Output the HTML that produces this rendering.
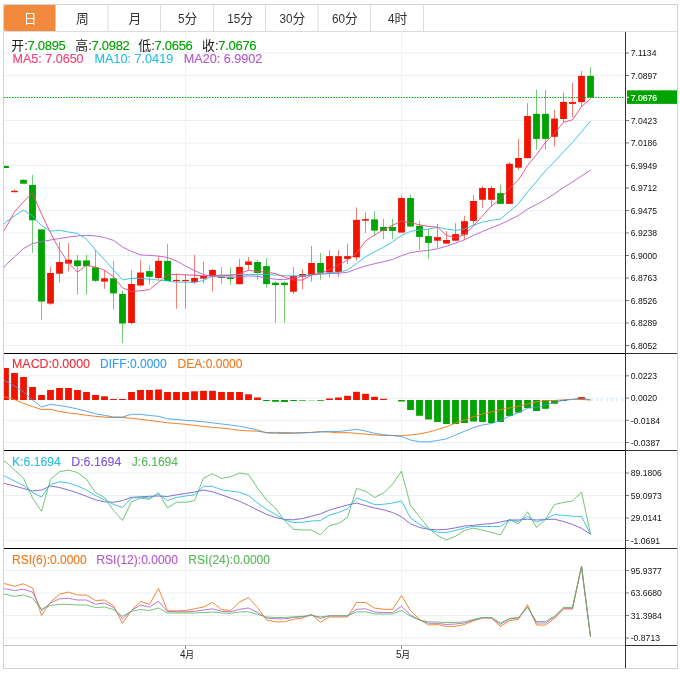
<!DOCTYPE html><html><head><meta charset="utf-8"><title>chart</title><style>html,body{margin:0;padding:0;background:#fff}svg{display:block;will-change:transform;font-family:"Liberation Sans",sans-serif}</style></head><body>
<svg width="680" height="673" viewBox="0 0 680 673">
<rect width="680" height="673" fill="#fff"/>
<defs><clipPath id="cp"><rect x="4" y="32" width="621" height="614"/></clipPath></defs>
<g stroke="#e9f1f7" stroke-width="1" fill="none">
<line x1="4" x2="625" y1="53.00" y2="53.00"/>
<line x1="4" x2="625" y1="75.50" y2="75.50"/>
<line x1="4" x2="625" y1="98.00" y2="98.00"/>
<line x1="4" x2="625" y1="120.50" y2="120.50"/>
<line x1="4" x2="625" y1="143.00" y2="143.00"/>
<line x1="4" x2="625" y1="165.50" y2="165.50"/>
<line x1="4" x2="625" y1="188.00" y2="188.00"/>
<line x1="4" x2="625" y1="210.50" y2="210.50"/>
<line x1="4" x2="625" y1="233.00" y2="233.00"/>
<line x1="4" x2="625" y1="255.50" y2="255.50"/>
<line x1="4" x2="625" y1="278.00" y2="278.00"/>
<line x1="4" x2="625" y1="300.50" y2="300.50"/>
<line x1="4" x2="625" y1="323.00" y2="323.00"/>
<line x1="4" x2="625" y1="345.50" y2="345.50"/>
<line x1="4" x2="625" y1="375.80" y2="375.80"/>
<line x1="4" x2="625" y1="398.20" y2="398.20"/>
<line x1="4" x2="625" y1="420.30" y2="420.30"/>
<line x1="4" x2="625" y1="442.50" y2="442.50"/>
<line x1="4" x2="625" y1="473.00" y2="473.00"/>
<line x1="4" x2="625" y1="495.50" y2="495.50"/>
<line x1="4" x2="625" y1="518.00" y2="518.00"/>
<line x1="4" x2="625" y1="540.50" y2="540.50"/>
<line x1="4" x2="625" y1="570.50" y2="570.50"/>
<line x1="4" x2="625" y1="593.00" y2="593.00"/>
<line x1="4" x2="625" y1="615.50" y2="615.50"/>
<line x1="4" x2="625" y1="638.00" y2="638.00"/>
<line x1="185.5" x2="185.5" y1="32" y2="645" stroke="#edf3f8"/>
<line x1="401.5" x2="401.5" y1="32" y2="645" stroke="#edf3f8"/>
</g>
<rect x="3.5" y="4.5" width="674" height="664" fill="none" stroke="#d2d2d2"/>
<line x1="4" x2="677" y1="31.5" y2="31.5" stroke="#dcdcdc"/>
<path d="M6,5H55.5V31H6a2,2 0 0 1 -2,-2V7a2,2 0 0 1 2,-2z" fill="#f28a3e"/>
<line x1="108.0" x2="108.0" y1="5" y2="31" stroke="#dcdcdc"/>
<line x1="160.5" x2="160.5" y1="5" y2="31" stroke="#dcdcdc"/>
<line x1="213.5" x2="213.5" y1="5" y2="31" stroke="#dcdcdc"/>
<line x1="265.5" x2="265.5" y1="5" y2="31" stroke="#dcdcdc"/>
<line x1="318.0" x2="318.0" y1="5" y2="31" stroke="#dcdcdc"/>
<line x1="370.5" x2="370.5" y1="5" y2="31" stroke="#dcdcdc"/>
<line x1="423.5" x2="423.5" y1="5" y2="31" stroke="#dcdcdc"/>
<text x="23.70" y="22.80" font-size="12.8" fill="#fff" font-family="&quot;Liberation Sans&quot;,&quot;Noto Sans CJK SC&quot;,sans-serif">日</text>
<text x="75.95" y="22.80" font-size="12.8" fill="#333" font-family="&quot;Liberation Sans&quot;,&quot;Noto Sans CJK SC&quot;,sans-serif">周</text>
<text x="128.45" y="22.80" font-size="12.8" fill="#333" font-family="&quot;Liberation Sans&quot;,&quot;Noto Sans CJK SC&quot;,sans-serif">月</text>
<text transform="translate(177.94,23.20) scale(0.9,1)" font-size="13" fill="#333">5</text><text x="184.45" y="22.80" font-size="12.8" fill="#333" font-family="&quot;Liberation Sans&quot;,&quot;Noto Sans CJK SC&quot;,sans-serif">分</text>
<text transform="translate(227.19,23.20) scale(0.9,1)" font-size="13" fill="#333">15</text><text x="240.20" y="22.80" font-size="12.8" fill="#333" font-family="&quot;Liberation Sans&quot;,&quot;Noto Sans CJK SC&quot;,sans-serif">分</text>
<text transform="translate(279.44,23.20) scale(0.9,1)" font-size="13" fill="#333">30</text><text x="292.45" y="22.80" font-size="12.8" fill="#333" font-family="&quot;Liberation Sans&quot;,&quot;Noto Sans CJK SC&quot;,sans-serif">分</text>
<text transform="translate(331.94,23.20) scale(0.9,1)" font-size="13" fill="#333">60</text><text x="344.95" y="22.80" font-size="12.8" fill="#333" font-family="&quot;Liberation Sans&quot;,&quot;Noto Sans CJK SC&quot;,sans-serif">分</text>
<text transform="translate(387.94,23.20) scale(0.9,1)" font-size="13" fill="#333">4</text><text x="394.45" y="22.80" font-size="12.8" fill="#333" font-family="&quot;Liberation Sans&quot;,&quot;Noto Sans CJK SC&quot;,sans-serif">时</text>
<g clip-path="url(#cp)">
<line x1="5.5" x2="5.5" y1="165.3" y2="168.0" stroke="#00a400" stroke-width="1" stroke-opacity="0.55"/>
<rect x="2.10" y="166.0" width="6.8" height="2.0" fill="#00a400"/>
<line x1="14.5" x2="14.5" y1="189.6" y2="192.2" stroke="#f01400" stroke-width="1" stroke-opacity="0.55"/>
<rect x="11.10" y="190.8" width="6.8" height="1.4" fill="#f01400"/>
<line x1="23.5" x2="23.5" y1="179.2" y2="183.7" stroke="#00a400" stroke-width="1" stroke-opacity="0.55"/>
<rect x="20.10" y="179.8" width="6.8" height="3.9" fill="#00a400"/>
<line x1="32.5" x2="32.5" y1="174.8" y2="252.8" stroke="#00a400" stroke-width="1" stroke-opacity="0.55"/>
<rect x="29.10" y="185.0" width="6.8" height="35.3" fill="#00a400"/>
<line x1="41.5" x2="41.5" y1="229.4" y2="320.0" stroke="#00a400" stroke-width="1" stroke-opacity="0.55"/>
<rect x="38.10" y="229.4" width="6.8" height="72.2" fill="#00a400"/>
<line x1="50.5" x2="50.5" y1="266.5" y2="305.0" stroke="#f01400" stroke-width="1" stroke-opacity="0.55"/>
<rect x="47.10" y="273.0" width="6.8" height="30.6" fill="#f01400"/>
<line x1="59.5" x2="59.5" y1="242.0" y2="282.8" stroke="#f01400" stroke-width="1" stroke-opacity="0.55"/>
<rect x="56.10" y="262.0" width="6.8" height="11.7" fill="#f01400"/>
<line x1="68.5" x2="68.5" y1="243.0" y2="271.7" stroke="#f01400" stroke-width="1" stroke-opacity="0.55"/>
<rect x="65.10" y="259.8" width="6.8" height="3.8" fill="#f01400"/>
<line x1="77.5" x2="77.5" y1="254.8" y2="294.7" stroke="#00a400" stroke-width="1" stroke-opacity="0.55"/>
<rect x="74.10" y="260.4" width="6.8" height="5.8" fill="#00a400"/>
<line x1="86.5" x2="86.5" y1="254.8" y2="294.7" stroke="#00a400" stroke-width="1" stroke-opacity="0.55"/>
<rect x="83.10" y="260.4" width="6.8" height="5.8" fill="#00a400"/>
<line x1="95.5" x2="95.5" y1="249.7" y2="282.0" stroke="#00a400" stroke-width="1" stroke-opacity="0.55"/>
<rect x="92.10" y="267.4" width="6.8" height="13.4" fill="#00a400"/>
<line x1="104.5" x2="104.5" y1="270.0" y2="288.9" stroke="#f01400" stroke-width="1" stroke-opacity="0.55"/>
<rect x="101.10" y="278.3" width="6.8" height="3.3" fill="#f01400"/>
<line x1="113.5" x2="113.5" y1="261.0" y2="309.6" stroke="#00a400" stroke-width="1" stroke-opacity="0.55"/>
<rect x="110.10" y="278.3" width="6.8" height="15.1" fill="#00a400"/>
<line x1="122.5" x2="122.5" y1="290.7" y2="343.0" stroke="#00a400" stroke-width="1" stroke-opacity="0.55"/>
<rect x="119.10" y="294.0" width="6.8" height="29.5" fill="#00a400"/>
<line x1="131.5" x2="131.5" y1="270.3" y2="324.5" stroke="#f01400" stroke-width="1" stroke-opacity="0.55"/>
<rect x="128.10" y="284.0" width="6.8" height="39.0" fill="#f01400"/>
<line x1="140.5" x2="140.5" y1="260.0" y2="286.5" stroke="#f01400" stroke-width="1" stroke-opacity="0.55"/>
<rect x="137.10" y="272.5" width="6.8" height="13.0" fill="#f01400"/>
<line x1="149.5" x2="149.5" y1="265.2" y2="284.0" stroke="#00a400" stroke-width="1" stroke-opacity="0.55"/>
<rect x="146.10" y="271.1" width="6.8" height="5.7" fill="#00a400"/>
<line x1="158.5" x2="158.5" y1="256.4" y2="279.5" stroke="#f01400" stroke-width="1" stroke-opacity="0.55"/>
<rect x="155.10" y="260.9" width="6.8" height="17.1" fill="#f01400"/>
<line x1="167.5" x2="167.5" y1="244.1" y2="281.0" stroke="#00a400" stroke-width="1" stroke-opacity="0.55"/>
<rect x="164.10" y="260.9" width="6.8" height="20.1" fill="#00a400"/>
<line x1="176.5" x2="176.5" y1="273.7" y2="308.7" stroke="#f01400" stroke-width="1" stroke-opacity="0.55"/>
<rect x="173.10" y="279.9" width="6.8" height="1.3" fill="#f01400"/>
<line x1="185.5" x2="185.5" y1="273.7" y2="308.7" stroke="#f01400" stroke-width="1" stroke-opacity="0.55"/>
<rect x="182.10" y="279.9" width="6.8" height="1.3" fill="#f01400"/>
<line x1="194.5" x2="194.5" y1="254.9" y2="284.0" stroke="#f01400" stroke-width="1" stroke-opacity="0.55"/>
<rect x="191.10" y="278.0" width="6.8" height="4.3" fill="#f01400"/>
<line x1="203.5" x2="203.5" y1="261.8" y2="283.1" stroke="#f01400" stroke-width="1" stroke-opacity="0.55"/>
<rect x="200.10" y="275.9" width="6.8" height="2.7" fill="#f01400"/>
<line x1="212.5" x2="212.5" y1="269.0" y2="291.5" stroke="#f01400" stroke-width="1" stroke-opacity="0.55"/>
<rect x="209.10" y="270.0" width="6.8" height="6.0" fill="#f01400"/>
<line x1="221.5" x2="221.5" y1="267.0" y2="284.0" stroke="#00a400" stroke-width="1" stroke-opacity="0.55"/>
<rect x="218.10" y="276.8" width="6.8" height="1.2" fill="#00a400"/>
<line x1="230.5" x2="230.5" y1="267.6" y2="285.0" stroke="#00a400" stroke-width="1" stroke-opacity="0.55"/>
<rect x="227.10" y="277.5" width="6.8" height="1.5" fill="#00a400"/>
<line x1="239.5" x2="239.5" y1="258.9" y2="284.5" stroke="#f01400" stroke-width="1" stroke-opacity="0.55"/>
<rect x="236.10" y="266.9" width="6.8" height="17.3" fill="#f01400"/>
<line x1="248.5" x2="248.5" y1="257.0" y2="270.2" stroke="#f01400" stroke-width="1" stroke-opacity="0.55"/>
<rect x="245.10" y="261.5" width="6.8" height="3.4" fill="#f01400"/>
<line x1="257.5" x2="257.5" y1="260.0" y2="279.8" stroke="#00a400" stroke-width="1" stroke-opacity="0.55"/>
<rect x="254.10" y="262.0" width="6.8" height="11.0" fill="#00a400"/>
<line x1="266.5" x2="266.5" y1="258.2" y2="287.8" stroke="#00a400" stroke-width="1" stroke-opacity="0.55"/>
<rect x="263.10" y="266.1" width="6.8" height="18.0" fill="#00a400"/>
<line x1="275.5" x2="275.5" y1="281.5" y2="323.0" stroke="#00a400" stroke-width="1" stroke-opacity="0.55"/>
<rect x="272.10" y="282.7" width="6.8" height="2.4" fill="#00a400"/>
<line x1="284.5" x2="284.5" y1="281.5" y2="323.0" stroke="#00a400" stroke-width="1" stroke-opacity="0.55"/>
<rect x="281.10" y="282.7" width="6.8" height="2.4" fill="#00a400"/>
<line x1="293.5" x2="293.5" y1="266.8" y2="294.0" stroke="#f01400" stroke-width="1" stroke-opacity="0.55"/>
<rect x="290.10" y="275.9" width="6.8" height="15.8" fill="#f01400"/>
<line x1="302.5" x2="302.5" y1="269.4" y2="289.2" stroke="#f01400" stroke-width="1" stroke-opacity="0.55"/>
<rect x="299.10" y="274.0" width="6.8" height="2.7" fill="#f01400"/>
<line x1="311.5" x2="311.5" y1="246.0" y2="281.5" stroke="#f01400" stroke-width="1" stroke-opacity="0.55"/>
<rect x="308.10" y="263.0" width="6.8" height="11.6" fill="#f01400"/>
<line x1="320.5" x2="320.5" y1="253.0" y2="279.7" stroke="#00a400" stroke-width="1" stroke-opacity="0.55"/>
<rect x="317.10" y="263.0" width="6.8" height="9.8" fill="#00a400"/>
<line x1="329.5" x2="329.5" y1="250.2" y2="276.9" stroke="#f01400" stroke-width="1" stroke-opacity="0.55"/>
<rect x="326.10" y="256.1" width="6.8" height="16.3" fill="#f01400"/>
<line x1="338.5" x2="338.5" y1="250.2" y2="276.9" stroke="#f01400" stroke-width="1" stroke-opacity="0.55"/>
<rect x="335.10" y="256.1" width="6.8" height="16.1" fill="#f01400"/>
<line x1="347.5" x2="347.5" y1="243.7" y2="264.0" stroke="#f01400" stroke-width="1" stroke-opacity="0.55"/>
<rect x="344.10" y="256.1" width="6.8" height="2.8" fill="#f01400"/>
<line x1="356.5" x2="356.5" y1="207.4" y2="260.6" stroke="#f01400" stroke-width="1" stroke-opacity="0.55"/>
<rect x="353.10" y="219.9" width="6.8" height="37.4" fill="#f01400"/>
<line x1="365.5" x2="365.5" y1="212.0" y2="233.0" stroke="#f01400" stroke-width="1" stroke-opacity="0.55"/>
<rect x="362.10" y="219.1" width="6.8" height="1.6" fill="#f01400"/>
<line x1="374.5" x2="374.5" y1="211.1" y2="235.5" stroke="#00a400" stroke-width="1" stroke-opacity="0.55"/>
<rect x="371.10" y="219.4" width="6.8" height="11.2" fill="#00a400"/>
<line x1="383.5" x2="383.5" y1="218.8" y2="239.1" stroke="#00a400" stroke-width="1" stroke-opacity="0.55"/>
<rect x="380.10" y="227.0" width="6.8" height="3.9" fill="#00a400"/>
<line x1="392.5" x2="392.5" y1="218.8" y2="239.1" stroke="#00a400" stroke-width="1" stroke-opacity="0.55"/>
<rect x="389.10" y="227.0" width="6.8" height="3.9" fill="#00a400"/>
<line x1="401.5" x2="401.5" y1="195.4" y2="232.6" stroke="#f01400" stroke-width="1" stroke-opacity="0.55"/>
<rect x="398.10" y="198.0" width="6.8" height="34.6" fill="#f01400"/>
<line x1="410.5" x2="410.5" y1="194.8" y2="226.5" stroke="#00a400" stroke-width="1" stroke-opacity="0.55"/>
<rect x="407.10" y="198.0" width="6.8" height="28.5" fill="#00a400"/>
<line x1="419.5" x2="419.5" y1="220.6" y2="249.8" stroke="#00a400" stroke-width="1" stroke-opacity="0.55"/>
<rect x="416.10" y="225.8" width="6.8" height="11.1" fill="#00a400"/>
<line x1="428.5" x2="428.5" y1="229.0" y2="258.9" stroke="#00a400" stroke-width="1" stroke-opacity="0.55"/>
<rect x="425.10" y="236.1" width="6.8" height="6.8" fill="#00a400"/>
<line x1="437.5" x2="437.5" y1="223.9" y2="248.0" stroke="#f01400" stroke-width="1" stroke-opacity="0.55"/>
<rect x="434.10" y="237.1" width="6.8" height="3.6" fill="#f01400"/>
<line x1="446.5" x2="446.5" y1="231.2" y2="243.6" stroke="#f01400" stroke-width="1" stroke-opacity="0.55"/>
<rect x="443.10" y="240.0" width="6.8" height="3.6" fill="#f01400"/>
<line x1="455.5" x2="455.5" y1="223.2" y2="241.0" stroke="#f01400" stroke-width="1" stroke-opacity="0.55"/>
<rect x="452.10" y="234.1" width="6.8" height="6.6" fill="#f01400"/>
<line x1="464.5" x2="464.5" y1="215.8" y2="240.2" stroke="#f01400" stroke-width="1" stroke-opacity="0.55"/>
<rect x="461.10" y="221.2" width="6.8" height="13.4" fill="#f01400"/>
<line x1="473.5" x2="473.5" y1="195.0" y2="225.3" stroke="#f01400" stroke-width="1" stroke-opacity="0.55"/>
<rect x="470.10" y="201.0" width="6.8" height="19.9" fill="#f01400"/>
<line x1="482.5" x2="482.5" y1="185.8" y2="208.0" stroke="#f01400" stroke-width="1" stroke-opacity="0.55"/>
<rect x="479.10" y="188.0" width="6.8" height="11.8" fill="#f01400"/>
<line x1="491.5" x2="491.5" y1="185.8" y2="206.5" stroke="#f01400" stroke-width="1" stroke-opacity="0.55"/>
<rect x="488.10" y="188.0" width="6.8" height="11.8" fill="#f01400"/>
<line x1="500.5" x2="500.5" y1="184.8" y2="203.9" stroke="#00a400" stroke-width="1" stroke-opacity="0.55"/>
<rect x="497.10" y="193.1" width="6.8" height="10.8" fill="#00a400"/>
<line x1="509.5" x2="509.5" y1="162.1" y2="203.9" stroke="#f01400" stroke-width="1" stroke-opacity="0.55"/>
<rect x="506.10" y="163.8" width="6.8" height="40.1" fill="#f01400"/>
<line x1="518.5" x2="518.5" y1="139.1" y2="170.1" stroke="#f01400" stroke-width="1" stroke-opacity="0.55"/>
<rect x="515.10" y="158.0" width="6.8" height="9.7" fill="#f01400"/>
<line x1="527.5" x2="527.5" y1="103.1" y2="158.2" stroke="#f01400" stroke-width="1" stroke-opacity="0.55"/>
<rect x="524.10" y="116.0" width="6.8" height="42.2" fill="#f01400"/>
<line x1="536.5" x2="536.5" y1="89.9" y2="149.7" stroke="#00a400" stroke-width="1" stroke-opacity="0.55"/>
<rect x="533.10" y="113.8" width="6.8" height="25.1" fill="#00a400"/>
<line x1="545.5" x2="545.5" y1="89.9" y2="149.7" stroke="#00a400" stroke-width="1" stroke-opacity="0.55"/>
<rect x="542.10" y="113.8" width="6.8" height="25.1" fill="#00a400"/>
<line x1="554.5" x2="554.5" y1="109.9" y2="146.3" stroke="#f01400" stroke-width="1" stroke-opacity="0.55"/>
<rect x="551.10" y="118.6" width="6.8" height="18.2" fill="#f01400"/>
<line x1="563.5" x2="563.5" y1="92.6" y2="122.5" stroke="#f01400" stroke-width="1" stroke-opacity="0.55"/>
<rect x="560.10" y="101.9" width="6.8" height="17.1" fill="#f01400"/>
<line x1="572.5" x2="572.5" y1="82.9" y2="117.1" stroke="#f01400" stroke-width="1" stroke-opacity="0.55"/>
<rect x="569.10" y="102.0" width="6.8" height="1.9" fill="#f01400"/>
<line x1="581.5" x2="581.5" y1="70.9" y2="106.9" stroke="#f01400" stroke-width="1" stroke-opacity="0.55"/>
<rect x="578.10" y="75.9" width="6.8" height="26.3" fill="#f01400"/>
<line x1="590.5" x2="590.5" y1="67.2" y2="98.5" stroke="#00a400" stroke-width="1" stroke-opacity="0.55"/>
<rect x="587.10" y="75.9" width="6.8" height="21.6" fill="#00a400"/>
<polyline fill="none" stroke="#b45ccc" stroke-width="0.9" stroke-linejoin="round" points="4,267.5 5.5,265.3 14.5,256.8 23.5,248.6 32.5,243.6 41.5,241.7 50.5,240.0 59.5,238.5 68.5,237.1 77.5,235.9 86.5,235.4 95.5,235.9 104.5,237.5 113.5,240.4 122.5,246.9 131.5,251.5 140.5,254.9 149.5,255.4 158.5,256.1 167.5,257.5 176.5,260.9 185.5,266.0 194.5,270.6 203.5,274.6 212.5,276.4 221.5,277.1 230.5,277.1 239.5,276.8 248.5,275.9 257.5,276.3 266.5,278.0 275.5,279.3 284.5,279.7 293.5,278.0 302.5,276.3 311.5,274.9 320.5,274.2 329.5,273.5 338.5,273.3 347.5,272.3 356.5,268.9 365.5,266.0 374.5,263.7 383.5,261.7 392.5,259.5 401.5,255.7 410.5,252.6 419.5,251.3 428.5,250.4 437.5,248.8 446.5,246.2 455.5,243.1 464.5,239.7 473.5,235.4 482.5,231.5 491.5,227.8 500.5,224.3 509.5,220.0 518.5,215.4 527.5,209.0 536.5,204.5 545.5,199.5 554.5,193.8 563.5,187.5 572.5,182.0 581.5,176.0 590.5,170.1"/>
<polyline fill="none" stroke="#2bbfe0" stroke-width="0.9" stroke-linejoin="round" points="4,224.0 5.5,222.3 14.5,215.8 23.5,210.1 32.5,215.8 41.5,225.7 50.5,231.1 59.5,230.3 68.5,232.0 77.5,233.4 86.5,239.2 95.5,250.0 104.5,259.7 113.5,270.0 122.5,280.0 131.5,278.3 140.5,278.3 149.5,279.3 158.5,280.0 167.5,281.0 176.5,282.2 185.5,282.2 194.5,282.2 203.5,280.5 212.5,276.0 221.5,275.0 230.5,274.9 239.5,274.5 248.5,274.5 257.5,274.5 266.5,274.5 275.5,275.0 284.5,275.7 293.5,275.9 302.5,275.6 311.5,274.5 320.5,273.8 329.5,272.6 338.5,272.3 347.5,270.0 356.5,263.4 365.5,256.9 374.5,251.8 383.5,247.2 392.5,241.9 401.5,235.5 410.5,231.3 419.5,230.0 428.5,229.1 437.5,227.2 446.5,229.1 455.5,230.3 464.5,229.1 473.5,225.2 482.5,222.1 491.5,220.4 500.5,218.9 509.5,211.5 518.5,203.8 527.5,191.9 536.5,181.5 545.5,170.7 554.5,161.7 563.5,151.8 572.5,142.5 581.5,131.8 590.5,121.0"/>
<polyline fill="none" stroke="#ee4477" stroke-width="0.9" stroke-linejoin="round" points="4,231.0 5.5,228.2 14.5,212.0 23.5,201.6 32.5,193.2 41.5,214.0 50.5,232.8 59.5,249.6 68.5,262.8 77.5,272.2 86.5,265.3 95.5,267.0 104.5,270.2 113.5,276.8 122.5,287.9 131.5,291.3 140.5,290.8 149.5,289.6 158.5,282.2 167.5,274.9 176.5,274.2 185.5,275.0 194.5,275.2 203.5,275.9 212.5,275.8 221.5,275.6 230.5,275.7 239.5,273.7 248.5,270.3 257.5,271.5 266.5,272.0 275.5,273.7 284.5,277.1 293.5,280.0 302.5,280.0 311.5,275.0 320.5,273.1 329.5,269.7 338.5,265.1 347.5,260.0 356.5,253.5 365.5,241.0 374.5,235.0 383.5,229.9 392.5,225.3 401.5,221.0 410.5,222.7 419.5,224.8 428.5,226.4 437.5,227.2 446.5,235.4 455.5,237.7 464.5,234.9 473.5,226.0 482.5,215.8 491.5,206.0 500.5,198.7 509.5,188.4 518.5,179.9 527.5,165.6 536.5,154.8 545.5,142.4 554.5,133.1 563.5,122.4 572.5,119.8 581.5,106.5 590.5,99.0"/>
<rect x="2.10" y="368.0" width="6.8" height="32.0" fill="#f01400"/>
<rect x="11.10" y="373.0" width="6.8" height="27.0" fill="#f01400"/>
<rect x="20.10" y="377.0" width="6.8" height="23.0" fill="#f01400"/>
<rect x="29.10" y="387.0" width="6.8" height="13.0" fill="#f01400"/>
<rect x="38.10" y="395.0" width="6.8" height="5.0" fill="#f01400"/>
<rect x="47.10" y="390.0" width="6.8" height="10.0" fill="#f01400"/>
<rect x="56.10" y="388.0" width="6.8" height="12.0" fill="#f01400"/>
<rect x="65.10" y="388.0" width="6.8" height="12.0" fill="#f01400"/>
<rect x="74.10" y="390.0" width="6.8" height="10.0" fill="#f01400"/>
<rect x="83.10" y="392.0" width="6.8" height="8.0" fill="#f01400"/>
<rect x="92.10" y="395.0" width="6.8" height="5.0" fill="#f01400"/>
<rect x="101.10" y="396.3" width="6.8" height="3.7" fill="#f01400"/>
<rect x="110.10" y="399.0" width="6.8" height="1.0" fill="#f01400"/>
<rect x="119.10" y="399.0" width="6.8" height="1.0" fill="#f01400"/>
<rect x="128.10" y="392.0" width="6.8" height="8.0" fill="#f01400"/>
<rect x="137.10" y="390.0" width="6.8" height="10.0" fill="#f01400"/>
<rect x="146.10" y="390.0" width="6.8" height="10.0" fill="#f01400"/>
<rect x="155.10" y="389.5" width="6.8" height="10.5" fill="#f01400"/>
<rect x="164.10" y="392.0" width="6.8" height="8.0" fill="#f01400"/>
<rect x="173.10" y="392.0" width="6.8" height="8.0" fill="#f01400"/>
<rect x="182.10" y="392.0" width="6.8" height="8.0" fill="#f01400"/>
<rect x="191.10" y="391.3" width="6.8" height="8.7" fill="#f01400"/>
<rect x="200.10" y="390.8" width="6.8" height="9.2" fill="#f01400"/>
<rect x="209.10" y="390.8" width="6.8" height="9.2" fill="#f01400"/>
<rect x="218.10" y="392.0" width="6.8" height="8.0" fill="#f01400"/>
<rect x="227.10" y="392.0" width="6.8" height="8.0" fill="#f01400"/>
<rect x="236.10" y="392.0" width="6.8" height="8.0" fill="#f01400"/>
<rect x="245.10" y="394.3" width="6.8" height="5.7" fill="#f01400"/>
<rect x="254.10" y="397.5" width="6.8" height="2.5" fill="#f01400"/>
<rect x="263.10" y="400" width="6.8" height="1.0" fill="#00a400"/>
<rect x="272.10" y="400" width="6.8" height="1.8" fill="#00a400"/>
<rect x="281.10" y="400" width="6.8" height="2.0" fill="#00a400"/>
<rect x="290.10" y="400" width="6.8" height="1.0" fill="#00a400"/>
<rect x="299.10" y="400" width="6.8" height="0.7" fill="#00a400"/>
<rect x="308.10" y="400" width="6.8" height="0.3" fill="#00a400"/>
<rect x="317.10" y="400" width="6.8" height="0.8" fill="#00a400"/>
<rect x="326.10" y="398.5" width="6.8" height="1.5" fill="#f01400"/>
<rect x="335.10" y="397.5" width="6.8" height="2.5" fill="#f01400"/>
<rect x="344.10" y="395.8" width="6.8" height="4.2" fill="#f01400"/>
<rect x="353.10" y="391.8" width="6.8" height="8.2" fill="#f01400"/>
<rect x="362.10" y="393.8" width="6.8" height="6.2" fill="#f01400"/>
<rect x="371.10" y="396.8" width="6.8" height="3.2" fill="#f01400"/>
<rect x="380.10" y="398.8" width="6.8" height="1.2" fill="#f01400"/>
<rect x="398.10" y="400" width="6.8" height="1.5" fill="#00a400"/>
<rect x="407.10" y="400" width="6.8" height="10.0" fill="#00a400"/>
<rect x="416.10" y="400" width="6.8" height="15.8" fill="#00a400"/>
<rect x="425.10" y="400" width="6.8" height="19.5" fill="#00a400"/>
<rect x="434.10" y="400" width="6.8" height="22.0" fill="#00a400"/>
<rect x="443.10" y="400" width="6.8" height="24.0" fill="#00a400"/>
<rect x="452.10" y="400" width="6.8" height="24.0" fill="#00a400"/>
<rect x="461.10" y="400" width="6.8" height="23.0" fill="#00a400"/>
<rect x="470.10" y="400" width="6.8" height="21.5" fill="#00a400"/>
<rect x="479.10" y="400" width="6.8" height="22.0" fill="#00a400"/>
<rect x="488.10" y="400" width="6.8" height="23.0" fill="#00a400"/>
<rect x="497.10" y="400" width="6.8" height="22.0" fill="#00a400"/>
<rect x="506.10" y="400" width="6.8" height="16.0" fill="#00a400"/>
<rect x="515.10" y="400" width="6.8" height="12.6" fill="#00a400"/>
<rect x="524.10" y="400" width="6.8" height="8.0" fill="#00a400"/>
<rect x="533.10" y="400" width="6.8" height="11.0" fill="#00a400"/>
<rect x="542.10" y="400" width="6.8" height="8.8" fill="#00a400"/>
<rect x="551.10" y="400" width="6.8" height="3.8" fill="#00a400"/>
<rect x="560.10" y="400" width="6.8" height="1.0" fill="#00a400"/>
<rect x="578.10" y="397.0" width="6.8" height="3.0" fill="#f01400"/>
<polyline fill="none" stroke="#f07a1e" stroke-width="0.95" stroke-linejoin="round" points="4,397.0 5.5,397.0 14.5,399.5 23.5,403.5 32.5,406.5 41.5,409.5 50.5,409.3 59.5,411.5 68.5,413.0 77.5,414.0 86.5,415.3 95.5,416.3 104.5,417.1 113.5,417.5 122.5,417.5 131.5,418.3 140.5,419.3 149.5,420.5 158.5,421.6 167.5,422.8 176.5,423.5 185.5,424.3 194.5,425.4 203.5,426.4 212.5,427.4 221.5,428.0 230.5,429.0 239.5,430.3 248.5,430.9 257.5,431.2 266.5,432.5 275.5,432.4 284.5,432.5 293.5,432.8 302.5,432.6 311.5,432.4 320.5,431.6 329.5,432.1 338.5,432.8 347.5,432.6 356.5,433.4 365.5,434.1 374.5,434.9 383.5,435.4 392.5,435.5 401.5,435.8 410.5,435.0 419.5,433.9 428.5,432.1 437.5,429.5 446.5,426.8 455.5,423.0 464.5,419.8 473.5,416.8 482.5,414.0 491.5,412.0 500.5,409.6 509.5,408.0 518.5,406.3 527.5,404.2 536.5,401.9 545.5,400.6 554.5,400.5 563.5,399.8 572.5,399.4 581.5,399.5 590.5,400.0"/>
<polyline fill="none" stroke="#3d9be9" stroke-width="0.85" stroke-linejoin="round" points="4,380.5 5.5,381.0 14.5,386.0 23.5,392.0 32.5,400.0 41.5,407.0 50.5,404.3 59.5,405.5 68.5,407.0 77.5,409.0 86.5,411.3 95.5,413.8 104.5,415.3 113.5,417.0 122.5,417.0 131.5,414.3 140.5,414.3 149.5,415.5 158.5,416.3 167.5,418.8 176.5,419.5 185.5,420.3 194.5,421.0 203.5,421.8 212.5,422.8 221.5,424.0 230.5,425.0 239.5,426.3 248.5,428.0 257.5,430.0 266.5,433.0 275.5,433.3 284.5,433.5 293.5,433.3 302.5,433.0 311.5,432.5 320.5,432.0 329.5,431.3 338.5,431.5 347.5,430.5 356.5,429.3 365.5,431.0 374.5,433.3 383.5,434.8 392.5,435.5 401.5,436.5 410.5,440.0 419.5,441.8 428.5,441.8 437.5,440.5 446.5,438.8 455.5,435.0 464.5,431.3 473.5,427.5 482.5,425.0 491.5,423.5 500.5,420.6 509.5,416.0 518.5,412.6 527.5,408.2 536.5,407.4 545.5,405.0 554.5,402.4 563.5,400.3 572.5,399.4 581.5,398.0 590.5,400.0"/>
<polyline fill="none" stroke="#5cb85c" stroke-width="0.85" stroke-linejoin="round" points="4,461.7 5.5,461.5 14.5,470.0 23.5,478.0 32.5,498.0 41.5,511.3 50.5,479.3 59.5,471.8 68.5,470.0 77.5,472.5 86.5,479.3 95.5,492.5 104.5,497.5 113.5,510.5 122.5,520.5 131.5,501.8 140.5,498.0 149.5,499.3 158.5,492.5 167.5,508.0 176.5,502.3 185.5,502.3 194.5,500.5 203.5,478.0 212.5,473.8 221.5,478.5 230.5,476.8 239.5,473.0 248.5,474.3 257.5,488.0 266.5,500.0 275.5,508.0 284.5,520.5 293.5,529.3 302.5,530.0 311.5,530.0 320.5,534.8 329.5,525.5 338.5,523.5 347.5,517.5 356.5,488.5 365.5,491.0 374.5,497.5 383.5,493.0 392.5,484.3 401.5,471.0 410.5,505.5 419.5,516.8 428.5,528.0 437.5,535.5 446.5,539.8 455.5,536.3 464.5,530.5 473.5,528.0 482.5,530.2 491.5,532.4 500.5,534.8 509.5,519.5 518.5,523.9 527.5,511.8 536.5,527.4 545.5,519.5 554.5,504.5 563.5,502.4 572.5,501.0 581.5,492.0 590.5,534.2"/>
<polyline fill="none" stroke="#8059cf" stroke-width="0.9" stroke-linejoin="round" points="4,483.5 5.5,483.7 14.5,486.0 23.5,488.5 32.5,491.0 41.5,490.0 50.5,486.0 59.5,487.5 68.5,490.0 77.5,493.0 86.5,496.3 95.5,499.8 104.5,501.8 113.5,502.3 122.5,500.5 131.5,497.3 140.5,496.8 149.5,496.3 158.5,496.0 167.5,496.5 176.5,494.8 185.5,493.5 194.5,492.0 203.5,490.0 212.5,491.8 221.5,494.8 230.5,498.0 239.5,501.3 248.5,505.5 257.5,510.0 266.5,514.3 275.5,517.5 284.5,519.5 293.5,519.8 302.5,518.5 311.5,516.3 320.5,513.8 329.5,510.0 338.5,507.5 347.5,505.0 356.5,503.0 365.5,505.5 374.5,508.0 383.5,509.8 392.5,512.5 401.5,516.8 410.5,523.8 419.5,527.5 428.5,529.3 437.5,529.8 446.5,529.3 455.5,527.8 464.5,526.0 473.5,525.3 482.5,524.3 491.5,523.6 500.5,522.0 509.5,520.0 518.5,520.0 527.5,519.2 536.5,520.0 545.5,519.5 554.5,519.2 563.5,521.5 572.5,524.5 581.5,528.3 590.5,534.2"/>
<polyline fill="none" stroke="#2bbfe0" stroke-width="0.9" stroke-linejoin="round" points="4,476.0 5.5,476.3 14.5,481.0 23.5,485.5 32.5,492.5 41.5,497.0 50.5,484.3 59.5,481.8 68.5,483.0 77.5,486.0 86.5,490.0 95.5,495.5 104.5,499.8 113.5,504.3 122.5,507.5 131.5,498.0 140.5,497.3 149.5,498.0 158.5,494.3 167.5,500.5 176.5,497.5 185.5,496.0 194.5,494.8 203.5,486.3 212.5,486.3 221.5,489.8 230.5,491.0 239.5,492.3 248.5,495.5 257.5,503.0 266.5,509.3 275.5,514.3 284.5,519.8 293.5,522.5 302.5,522.3 311.5,521.0 320.5,520.5 329.5,515.0 338.5,512.5 347.5,508.8 356.5,498.0 365.5,501.0 374.5,504.5 383.5,504.3 392.5,503.0 401.5,501.0 410.5,518.0 419.5,524.3 428.5,529.3 437.5,532.3 446.5,532.5 455.5,530.5 464.5,528.0 473.5,526.3 482.5,526.5 491.5,526.5 500.5,526.5 509.5,520.0 518.5,521.5 527.5,516.5 536.5,522.0 545.5,519.2 554.5,514.5 563.5,515.4 572.5,516.2 581.5,516.5 590.5,534.2"/>
<polyline fill="none" stroke="#f07a1e" stroke-width="0.9" stroke-linejoin="round" points="4,583.7 5.5,583.8 14.5,586.3 23.5,583.8 32.5,588.0 41.5,615.5 50.5,602.0 59.5,594.3 68.5,592.0 77.5,595.0 86.5,595.0 95.5,600.5 104.5,600.0 113.5,605.8 122.5,623.3 131.5,610.5 140.5,601.3 149.5,604.5 158.5,588.3 167.5,610.8 176.5,610.8 185.5,610.5 194.5,608.8 203.5,607.0 212.5,602.5 221.5,609.5 230.5,610.5 239.5,602.0 248.5,597.5 257.5,607.5 266.5,620.0 275.5,621.8 284.5,621.8 293.5,619.3 302.5,618.0 311.5,614.3 320.5,622.3 329.5,617.0 338.5,617.0 347.5,617.0 356.5,602.5 365.5,602.5 374.5,608.0 383.5,609.3 392.5,609.3 401.5,595.5 410.5,610.8 419.5,619.3 428.5,625.0 437.5,624.5 446.5,626.5 455.5,626.3 464.5,624.5 473.5,620.8 482.5,618.0 491.5,618.0 500.5,626.5 509.5,620.6 518.5,619.4 527.5,604.7 536.5,625.0 545.5,625.0 554.5,618.5 563.5,609.0 572.5,609.0 581.5,566.2 590.5,636.8"/>
<polyline fill="none" stroke="#b45ccc" stroke-width="0.85" stroke-linejoin="round" points="4,588.7 5.5,588.8 14.5,590.5 23.5,589.3 32.5,592.0 41.5,610.5 50.5,603.0 59.5,598.8 68.5,598.3 77.5,600.0 86.5,600.0 95.5,604.3 104.5,603.0 113.5,607.5 122.5,618.8 131.5,610.5 140.5,605.0 149.5,607.0 158.5,601.3 167.5,611.5 176.5,611.8 185.5,611.8 194.5,611.3 203.5,610.0 212.5,608.8 221.5,611.3 230.5,611.8 239.5,609.3 248.5,608.0 257.5,612.5 266.5,618.0 275.5,618.8 284.5,618.8 293.5,617.5 302.5,616.8 311.5,615.0 320.5,618.5 329.5,615.8 338.5,615.8 347.5,615.8 356.5,609.3 365.5,608.8 374.5,612.0 383.5,612.5 392.5,612.5 401.5,606.3 410.5,615.0 419.5,620.0 428.5,623.3 437.5,623.3 446.5,624.5 455.5,624.0 464.5,623.0 473.5,620.0 482.5,617.8 491.5,617.8 500.5,624.4 509.5,619.0 518.5,618.0 527.5,606.8 536.5,623.0 545.5,623.0 554.5,617.0 563.5,608.2 572.5,608.2 581.5,566.2 590.5,636.8"/>
<polyline fill="none" stroke="#5cb85c" stroke-width="0.85" stroke-linejoin="round" points="4,594.2 5.5,594.3 14.5,596.3 23.5,595.0 32.5,598.0 41.5,609.3 50.5,605.5 59.5,604.3 68.5,604.3 77.5,605.0 86.5,605.0 95.5,607.5 104.5,607.0 113.5,609.5 122.5,616.3 131.5,611.3 140.5,609.5 149.5,610.5 158.5,608.0 167.5,613.0 176.5,613.0 185.5,613.0 194.5,613.0 203.5,612.5 212.5,612.0 221.5,613.0 230.5,613.3 239.5,612.0 248.5,611.8 257.5,614.3 266.5,617.0 275.5,617.5 284.5,617.5 293.5,616.8 302.5,616.3 311.5,615.5 320.5,616.9 329.5,615.8 338.5,615.8 347.5,615.8 356.5,612.0 365.5,611.8 374.5,613.8 383.5,614.0 392.5,614.0 401.5,610.5 410.5,616.3 419.5,620.0 428.5,621.8 437.5,622.0 446.5,622.5 455.5,622.5 464.5,621.8 473.5,619.5 482.5,617.5 491.5,617.5 500.5,623.0 509.5,618.5 518.5,617.4 527.5,607.4 536.5,621.5 545.5,621.5 554.5,616.2 563.5,607.4 572.5,607.4 581.5,566.2 590.5,636.8"/>
</g>
<line x1="4" x2="625" y1="97.45" y2="97.45" stroke="#00a400" stroke-width="1.1" stroke-dasharray="1.4,1.3"/>
<line x1="591" x2="625" y1="400" y2="400" stroke="#b9def6" stroke-width="1" stroke-dasharray="2,3"/>
<line x1="4" x2="625" y1="353.5" y2="353.5" stroke="#000"/>
<line x1="625" x2="677" y1="353.5" y2="353.5" stroke="#333"/>
<line x1="4" x2="625" y1="450.5" y2="450.5" stroke="#000"/>
<line x1="625" x2="677" y1="450.5" y2="450.5" stroke="#333"/>
<line x1="4" x2="625" y1="548.5" y2="548.5" stroke="#000"/>
<line x1="625" x2="677" y1="548.5" y2="548.5" stroke="#333"/>
<line x1="4" x2="625" y1="645.5" y2="645.5" stroke="#c4c4c4"/>
<line x1="625" x2="677" y1="645.5" y2="645.5" stroke="#333"/>
<line x1="625.5" x2="625.5" y1="32" y2="668" stroke="#333"/>
<line x1="626" x2="629" y1="53.00" y2="53.00" stroke="#777"/>
<text transform="translate(630.7,56.40) scale(0.9,1)" font-size="9.6" fill="#111">7.1134</text>
<line x1="626" x2="629" y1="75.50" y2="75.50" stroke="#777"/>
<text transform="translate(630.7,78.90) scale(0.9,1)" font-size="9.6" fill="#111">7.0897</text>
<line x1="626" x2="629" y1="120.50" y2="120.50" stroke="#777"/>
<text transform="translate(630.7,123.90) scale(0.9,1)" font-size="9.6" fill="#111">7.0423</text>
<line x1="626" x2="629" y1="143.00" y2="143.00" stroke="#777"/>
<text transform="translate(630.7,146.40) scale(0.9,1)" font-size="9.6" fill="#111">7.0186</text>
<line x1="626" x2="629" y1="165.50" y2="165.50" stroke="#777"/>
<text transform="translate(630.7,168.90) scale(0.9,1)" font-size="9.6" fill="#111">6.9949</text>
<line x1="626" x2="629" y1="188.00" y2="188.00" stroke="#777"/>
<text transform="translate(630.7,191.40) scale(0.9,1)" font-size="9.6" fill="#111">6.9712</text>
<line x1="626" x2="629" y1="210.50" y2="210.50" stroke="#777"/>
<text transform="translate(630.7,213.90) scale(0.9,1)" font-size="9.6" fill="#111">6.9475</text>
<line x1="626" x2="629" y1="233.00" y2="233.00" stroke="#777"/>
<text transform="translate(630.7,236.40) scale(0.9,1)" font-size="9.6" fill="#111">6.9238</text>
<line x1="626" x2="629" y1="255.50" y2="255.50" stroke="#777"/>
<text transform="translate(630.7,258.90) scale(0.9,1)" font-size="9.6" fill="#111">6.9000</text>
<line x1="626" x2="629" y1="278.00" y2="278.00" stroke="#777"/>
<text transform="translate(630.7,281.40) scale(0.9,1)" font-size="9.6" fill="#111">6.8763</text>
<line x1="626" x2="629" y1="300.50" y2="300.50" stroke="#777"/>
<text transform="translate(630.7,303.90) scale(0.9,1)" font-size="9.6" fill="#111">6.8526</text>
<line x1="626" x2="629" y1="323.00" y2="323.00" stroke="#777"/>
<text transform="translate(630.7,326.40) scale(0.9,1)" font-size="9.6" fill="#111">6.8289</text>
<line x1="626" x2="629" y1="345.50" y2="345.50" stroke="#777"/>
<text transform="translate(630.7,348.90) scale(0.9,1)" font-size="9.6" fill="#111">6.8052</text>
<line x1="626" x2="629" y1="375.80" y2="375.80" stroke="#777"/>
<text transform="translate(630.7,379.20) scale(0.9,1)" font-size="9.6" fill="#111">0.0223</text>
<line x1="626" x2="629" y1="398.00" y2="398.00" stroke="#777"/>
<text transform="translate(630.7,401.40) scale(0.9,1)" font-size="9.6" fill="#111">0.0020</text>
<line x1="626" x2="629" y1="420.30" y2="420.30" stroke="#777"/>
<text transform="translate(630.7,423.70) scale(0.9,1)" font-size="9.6" fill="#111">-0.0184</text>
<line x1="626" x2="629" y1="442.50" y2="442.50" stroke="#777"/>
<text transform="translate(630.7,445.90) scale(0.9,1)" font-size="9.6" fill="#111">-0.0387</text>
<line x1="626" x2="629" y1="473.00" y2="473.00" stroke="#777"/>
<text transform="translate(630.7,476.40) scale(0.9,1)" font-size="9.6" fill="#111">89.1806</text>
<line x1="626" x2="629" y1="495.50" y2="495.50" stroke="#777"/>
<text transform="translate(630.7,498.90) scale(0.9,1)" font-size="9.6" fill="#111">59.0973</text>
<line x1="626" x2="629" y1="518.00" y2="518.00" stroke="#777"/>
<text transform="translate(630.7,521.40) scale(0.9,1)" font-size="9.6" fill="#111">29.0141</text>
<line x1="626" x2="629" y1="540.50" y2="540.50" stroke="#777"/>
<text transform="translate(630.7,543.90) scale(0.9,1)" font-size="9.6" fill="#111">-1.0691</text>
<line x1="626" x2="629" y1="570.50" y2="570.50" stroke="#777"/>
<text transform="translate(630.7,573.90) scale(0.9,1)" font-size="9.6" fill="#111">95.9377</text>
<line x1="626" x2="629" y1="593.00" y2="593.00" stroke="#777"/>
<text transform="translate(630.7,596.40) scale(0.9,1)" font-size="9.6" fill="#111">63.6680</text>
<line x1="626" x2="629" y1="615.50" y2="615.50" stroke="#777"/>
<text transform="translate(630.7,618.90) scale(0.9,1)" font-size="9.6" fill="#111">31.3984</text>
<line x1="626" x2="629" y1="638.00" y2="638.00" stroke="#777"/>
<text transform="translate(630.7,641.40) scale(0.9,1)" font-size="9.6" fill="#111">-0.8713</text>
<rect x="627" y="90.3" width="50" height="13.6" fill="#00a400"/>
<line x1="626" x2="629" y1="97.3" y2="97.3" stroke="#fff"/>
<text transform="translate(630.7,100.7) scale(0.9,1)" font-size="9.6" fill="#fff" stroke="#fff" stroke-width="0.2">7.0676</text>
<text x="11.25" y="49.90" font-size="12.8" fill="#222" font-family="&quot;Liberation Sans&quot;,&quot;Noto Sans CJK SC&quot;,sans-serif">开</text>
<text x="24.35" y="50.00" font-size="13" fill="#222">:</text>
<text x="27.55" y="50.00" font-size="13" fill="#00a400" letter-spacing="-0.3" stroke="#00a400" stroke-width="0.12">7.0895</text>
<text x="75.25" y="49.90" font-size="12.8" fill="#222" font-family="&quot;Liberation Sans&quot;,&quot;Noto Sans CJK SC&quot;,sans-serif">高</text>
<text x="88.35" y="50.00" font-size="13" fill="#222">:</text>
<text x="91.55" y="50.00" font-size="13" fill="#00a400" letter-spacing="-0.3" stroke="#00a400" stroke-width="0.12">7.0982</text>
<text x="138.25" y="49.90" font-size="12.8" fill="#222" font-family="&quot;Liberation Sans&quot;,&quot;Noto Sans CJK SC&quot;,sans-serif">低</text>
<text x="151.35" y="50.00" font-size="13" fill="#222">:</text>
<text x="154.55" y="50.00" font-size="13" fill="#00a400" letter-spacing="-0.3" stroke="#00a400" stroke-width="0.12">7.0656</text>
<text x="202.00" y="49.90" font-size="12.8" fill="#222" font-family="&quot;Liberation Sans&quot;,&quot;Noto Sans CJK SC&quot;,sans-serif">收</text>
<text x="215.10" y="50.00" font-size="13" fill="#222">:</text>
<text x="218.30" y="50.00" font-size="13" fill="#00a400" letter-spacing="-0.3" stroke="#00a400" stroke-width="0.12">7.0676</text>
<text x="12.50" y="63.40" font-size="13" fill="#ee4477" stroke="#ee4477" stroke-width="0.15" textLength="71.10" lengthAdjust="spacingAndGlyphs">MA5: 7.0650</text>
<text x="94.50" y="63.40" font-size="13" fill="#2bbfe0" stroke="#2bbfe0" stroke-width="0.15" textLength="78.70" lengthAdjust="spacingAndGlyphs">MA10: 7.0419</text>
<text x="183.75" y="63.40" font-size="13" fill="#b45ccc" stroke="#b45ccc" stroke-width="0.15" textLength="78.65" lengthAdjust="spacingAndGlyphs">MA20: 6.9902</text>
<text x="12.00" y="368.00" font-size="13" fill="#e8323c" stroke="#e8323c" stroke-width="0.15" textLength="78.00" lengthAdjust="spacingAndGlyphs">MACD:0.0000</text>
<text x="100.00" y="368.00" font-size="13" fill="#3d9be9" stroke="#3d9be9" stroke-width="0.15" textLength="66.70" lengthAdjust="spacingAndGlyphs">DIFF:0.0000</text>
<text x="177.50" y="368.00" font-size="13" fill="#f07a1e" stroke="#f07a1e" stroke-width="0.15" textLength="65.00" lengthAdjust="spacingAndGlyphs">DEA:0.0000</text>
<text x="12.00" y="466.00" font-size="13" fill="#2bbfe0" stroke="#2bbfe0" stroke-width="0.15" textLength="48.70" lengthAdjust="spacingAndGlyphs">K:6.1694</text>
<text x="71.30" y="466.00" font-size="13" fill="#8059cf" stroke="#8059cf" stroke-width="0.15" textLength="50.00" lengthAdjust="spacingAndGlyphs">D:6.1694</text>
<text x="131.80" y="466.00" font-size="13" fill="#5cb85c" stroke="#5cb85c" stroke-width="0.15" textLength="46.20" lengthAdjust="spacingAndGlyphs">J:6.1694</text>
<text x="12.00" y="563.50" font-size="13" fill="#f07a1e" stroke="#f07a1e" stroke-width="0.15" textLength="74.70" lengthAdjust="spacingAndGlyphs">RSI(6):0.0000</text>
<text x="96.30" y="563.50" font-size="13" fill="#b45ccc" stroke="#b45ccc" stroke-width="0.15" textLength="81.70" lengthAdjust="spacingAndGlyphs">RSI(12):0.0000</text>
<text x="188.30" y="563.50" font-size="13" fill="#5cb85c" stroke="#5cb85c" stroke-width="0.15" textLength="81.70" lengthAdjust="spacingAndGlyphs">RSI(24):0.0000</text>
<line x1="185.5" x2="185.5" y1="646" y2="649" stroke="#888"/>
<text x="179.90" y="657.80" font-size="10" fill="#222">4</text>
<text x="185.20" y="657.70" font-size="8.9" fill="#222" font-family="&quot;Liberation Sans&quot;,&quot;Noto Sans CJK SC&quot;,sans-serif">月</text>
<line x1="401.5" x2="401.5" y1="646" y2="649" stroke="#888"/>
<text x="395.90" y="657.80" font-size="10" fill="#222">5</text>
<text x="401.20" y="657.70" font-size="8.9" fill="#222" font-family="&quot;Liberation Sans&quot;,&quot;Noto Sans CJK SC&quot;,sans-serif">月</text>
</svg></body></html>
